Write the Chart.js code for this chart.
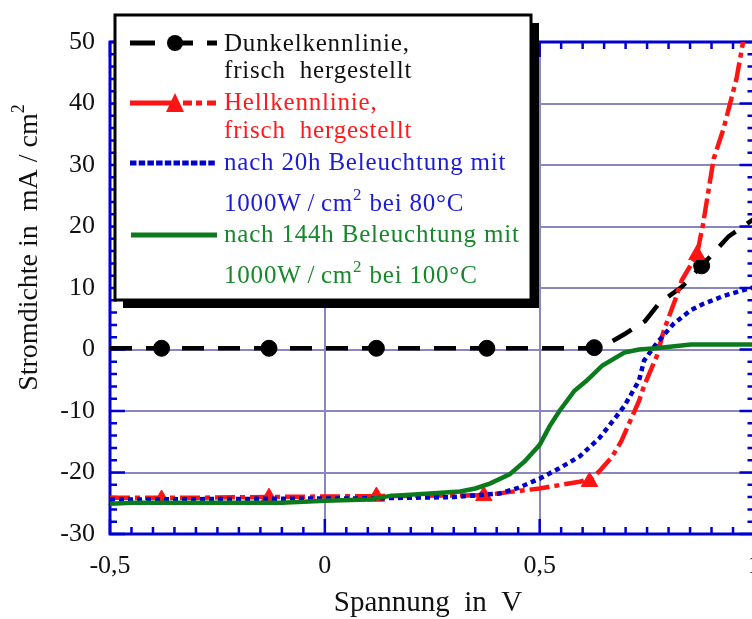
<!DOCTYPE html>
<html>
<head>
<meta charset="utf-8">
<script src="https://cdn.jsdelivr.net/npm/chart.js@4.4.1/dist/chart.umd.min.js"></script>
<style>
html, body { margin: 0; padding: 0; background: #fff; overflow: hidden; }
#wrap { position: absolute; left: 0; top: 0; width: 778px; height: 619px; }
</style>
</head>
<body>
<div id="wrap"><canvas id="kennlinien" width="778" height="619"></canvas></div>
<script>
/* Spannung (V) / Stromdichte (mA/cm²) */
const darkV  = [-0.5, 0.0, 0.6, 0.63, 0.66, 0.70, 0.745, 0.778, 0.831, 0.877, 0.94, 1.0];
const darkJ  = [0.2, 0.2, 0.2, 0.3, 1.0, 2.6, 4.6, 7.5, 10.2, 13.6, 18.4, 21.3];
const darkMarkV = [-0.38, -0.13, 0.12, 0.377, 0.627, 0.877];
const darkMarkJ = [0.2, 0.2, 0.2, 0.2, 0.3, 13.6];

const lightV = [-0.5, -0.3, 0.0, 0.2, 0.37, 0.45, 0.5, 0.55, 0.593, 0.62, 0.639, 0.669, 0.69,
                0.731, 0.743, 0.773, 0.789, 0.815, 0.831, 0.866, 0.88, 0.905, 0.928, 0.958, 0.975];
const lightJ = [-24.1, -24.1, -23.9, -23.8, -23.7, -23.0, -22.6, -22.0, -21.5, -21.0, -19.8, -17.4, -14.9,
                -8.4, -5.9, -1.0, 3.1, 8.0, 11.3, 15.4, 20.3, 31.0, 35.9, 44.0, 50.6];
const lightMarkV = [-0.38, -0.13, 0.12, 0.37, 0.616, 0.866];
const lightMarkJ = [-24.4, -24.1, -23.9, -23.8, -21.5, 15.4];

const h20V = [-0.5, -0.2, 0.1, 0.3, 0.407, 0.45, 0.5, 0.546, 0.593, 0.639, 0.674, 0.697, 0.731,
              0.743, 0.773, 0.812, 0.852, 0.88, 0.928, 0.99, 1.0];
const h20J = [-24.4, -24.3, -24.2, -24.0, -23.4, -22.5, -21.0, -19.3, -17.4, -14.4, -11.3, -9.2, -5.1,
              -1.8, 1.1, 4.2, 6.4, 7.4, 8.7, 10.0, 10.1];

const h144V = [-0.5, -0.45, -0.1, 0.0, 0.1, 0.153, 0.245, 0.315, 0.35, 0.384, 0.43, 0.465, 0.5,
               0.523, 0.546, 0.581, 0.609, 0.646, 0.697, 0.731, 0.77, 0.852, 0.87, 1.0];
const h144J = [-25.1, -24.9, -24.9, -24.6, -24.4, -23.8, -23.4, -23.1, -22.6, -21.8, -20.3, -18.2, -15.5,
               -12.5, -10.0, -6.7, -5.1, -2.6, -0.5, 0.0, 0.2, 0.8, 0.8, 0.8];

const xTicks = { min: -0.5, max: 1.0, step: 0.5, minor: 0.05 };
const yTicks = { min: -30, max: 50, step: 10, minor: 2 };

const legendText = [
  ["Dunkelkennlinie,", "frisch  hergestellt"],
  ["Hellkennlinie,", "frisch  hergestellt"],
  ["nach 20h Beleuchtung mit", "1000W\u2009/\u2009cm|2| bei 80°C"],
  ["nach 144h Beleuchtung mit", "1000W\u2009/\u2009cm|2| bei 100°C"]
];
const xTitle = "Spannung  in  V";
const yTitle = "Stromdichte in  mA / cm|2|";

const SERIF = '"Liberation Serif", "Times New Roman", serif';
const BLACK = '#000000', RED = '#ff1414', BLUE = '#0000cc', GREEN = '#0b7a1c';
const GRID = '#8a86c0', AXIS = '#0000d2';

const pts = (xs, ys) => xs.map((x, i) => ({ x, y: ys[i] }));

// text with a raised "2" marked as |2|
function richText(ctx, str, x, y, size) {
  const parts = str.split('|');
  parts.forEach((p, i) => {
    const sup = i % 2 === 1;
    ctx.font = (sup ? Math.round(size * 0.66) : size) + 'px ' + SERIF;
    ctx.fillText(p, x, sup ? y - size * 0.45 : y);
    x += ctx.measureText(p).width;
  });
}

/* Achsrahmen mit Teilstrichen */
const frame = {
  id: 'frame',
  beforeDatasetsDraw(chart) {
    const { ctx, chartArea: a, scales: { x, y } } = chart;
    ctx.save();
    ctx.strokeStyle = AXIS;
    ctx.lineWidth = 2.5;
    ctx.beginPath();
    const nx = Math.round((xTicks.max - xTicks.min) / xTicks.minor);
    for (let i = 0; i <= nx; i++) {
      const v = xTicks.min + i * xTicks.minor;
      const px = x.getPixelForValue(v);
      const len = i % 10 === 0 ? 15 : 7;
      ctx.moveTo(px, a.bottom); ctx.lineTo(px, a.bottom - len);
      ctx.moveTo(px, a.top); ctx.lineTo(px, a.top + len);
    }
    const ny = Math.round((yTicks.max - yTicks.min) / yTicks.minor);
    for (let i = 0; i <= ny; i++) {
      const v = yTicks.min + i * yTicks.minor;
      const py = y.getPixelForValue(v);
      const len = v % yTicks.step === 0 ? 15 : 7;
      ctx.moveTo(a.left, py); ctx.lineTo(a.left + len, py);
      ctx.moveTo(a.right, py); ctx.lineTo(a.right - len, py);
    }
    ctx.stroke();
    ctx.lineWidth = 3;
    ctx.strokeRect(a.left, a.top, a.right - a.left, a.bottom - a.top);
    ctx.restore();
  }
};

/* Achsentitel + Legende */
const annot = {
  id: 'annot',
  afterDraw(chart) {
    const { ctx } = chart;
    ctx.save();
    ctx.fillStyle = '#111';
    ctx.textBaseline = 'alphabetic';
    ctx.textAlign = 'left';
    ctx.font = '29px ' + SERIF;
    const wx = ctx.measureText(xTitle).width;
    richText(ctx, xTitle, 428 - wx / 2, 611, 29);

    ctx.save();
    ctx.translate(37, 245);
    ctx.rotate(-Math.PI / 2);
    ctx.font = '28px ' + SERIF;
    const wy = ctx.measureText(yTitle.replace(/\|/g, '')).width;
    richText(ctx, yTitle, -wy / 2, 0, 28);
    ctx.restore();

    // Legendenkasten
    const bx = 115, by = 15, bw = 416, bh = 285;
    ctx.fillStyle = '#000';
    ctx.fillRect(bx + 8, by + 8, bw, bh);
    ctx.fillStyle = '#fff';
    ctx.fillRect(bx, by, bw, bh);
    ctx.strokeStyle = '#000';
    ctx.lineWidth = 3;
    ctx.strokeRect(bx, by, bw, bh);

    ctx.lineCap = 'butt';
    ctx.lineWidth = 5;
    // Dunkelkennlinie
    ctx.strokeStyle = BLACK; ctx.fillStyle = BLACK;
    ctx.beginPath();
    ctx.moveTo(130, 43); ctx.lineTo(155, 43);
    ctx.moveTo(175, 43); ctx.lineTo(193, 43);
    ctx.moveTo(207, 43); ctx.lineTo(217, 43);
    ctx.stroke();
    ctx.beginPath(); ctx.arc(175, 43, 8, 0, Math.PI * 2); ctx.fill();
    // Hellkennlinie
    ctx.strokeStyle = RED; ctx.fillStyle = RED;
    ctx.beginPath();
    ctx.moveTo(130, 103); ctx.lineTo(172, 103);
    ctx.moveTo(183, 103); ctx.lineTo(192, 103);
    ctx.moveTo(196, 103); ctx.lineTo(202, 103);
    ctx.moveTo(207, 103); ctx.lineTo(216, 103);
    ctx.stroke();
    ctx.beginPath(); ctx.moveTo(175, 93); ctx.lineTo(184, 112); ctx.lineTo(166, 112); ctx.closePath(); ctx.fill();
    // 20h
    ctx.strokeStyle = BLUE;
    ctx.setLineDash([6.5, 2.2]);
    ctx.beginPath(); ctx.moveTo(130, 163); ctx.lineTo(215, 163); ctx.stroke();
    ctx.setLineDash([]);
    // 144h
    ctx.strokeStyle = GREEN;
    ctx.beginPath(); ctx.moveTo(131, 235); ctx.lineTo(217, 235); ctx.stroke();

    if ('letterSpacing' in ctx) ctx.letterSpacing = '0.8px';
    const colors = ['#111', '#ff1a1a', '#1c1cd2', '#17882a'];
    const base = [[51, 78], [110, 138], [170, 211], [242, 283]];
    legendText.forEach((lines, i) => {
      ctx.fillStyle = colors[i];
      lines.forEach((t, j) => richText(ctx, t, 224, base[i][j], 25));
    });
    ctx.restore();
  }
};

const ctx = document.getElementById('kennlinien');
new Chart(ctx, {
  type: 'line',
  data: {
    datasets: [
      { data: pts(h144V, h144J), borderColor: GREEN, borderWidth: 4.5, pointRadius: 0, tension: 0 },
      { data: pts(h20V, h20J), borderColor: BLUE, borderWidth: 4.5, borderDash: [5, 4], pointRadius: 0, tension: 0 },
      { data: pts(lightV, lightJ), borderColor: RED, borderWidth: 4.5, borderDash: [20, 5, 5, 5], pointRadius: 0, tension: 0 },
      { data: pts(darkV, darkJ), borderColor: BLACK, borderWidth: 4.5, borderDash: [22, 14], pointRadius: 0, tension: 0 },
      { data: pts(lightMarkV, lightMarkJ), showLine: false, pointStyle: 'triangle', pointRadius: 9.5,
        backgroundColor: RED, borderColor: RED, borderWidth: 1 },
      { data: pts(darkMarkV, darkMarkJ), showLine: false, pointStyle: 'circle', pointRadius: 8,
        backgroundColor: BLACK, borderColor: BLACK, borderWidth: 1 }
    ]
  },
  options: {
    responsive: false,
    animation: false,
    devicePixelRatio: 1,
    layout: { padding: { top: 42, right: 13, left: 0, bottom: 0 } },
    plugins: { legend: { display: false }, tooltip: { enabled: false } },
    scales: {
      x: {
        type: 'linear', min: xTicks.min, max: xTicks.max,
        border: { display: false },
        grid: { color: GRID, lineWidth: 2, drawTicks: false },
        ticks: {
          stepSize: xTicks.step, padding: 17, color: '#111',
          font: { family: SERIF, size: 26 },
          callback: v => String(v).replace('.', ',')
        },
        afterFit: s => { s.height = 85; }
      },
      y: {
        type: 'linear', min: yTicks.min, max: yTicks.max,
        border: { display: false },
        grid: { color: GRID, lineWidth: 2, drawTicks: false },
        ticks: {
          stepSize: yTicks.step, padding: 15, color: '#111',
          font: { family: SERIF, size: 26 }
        },
        afterFit: s => { s.width = 110; }
      }
    }
  },
  plugins: [frame, annot]
});
</script>
</body>
</html>
